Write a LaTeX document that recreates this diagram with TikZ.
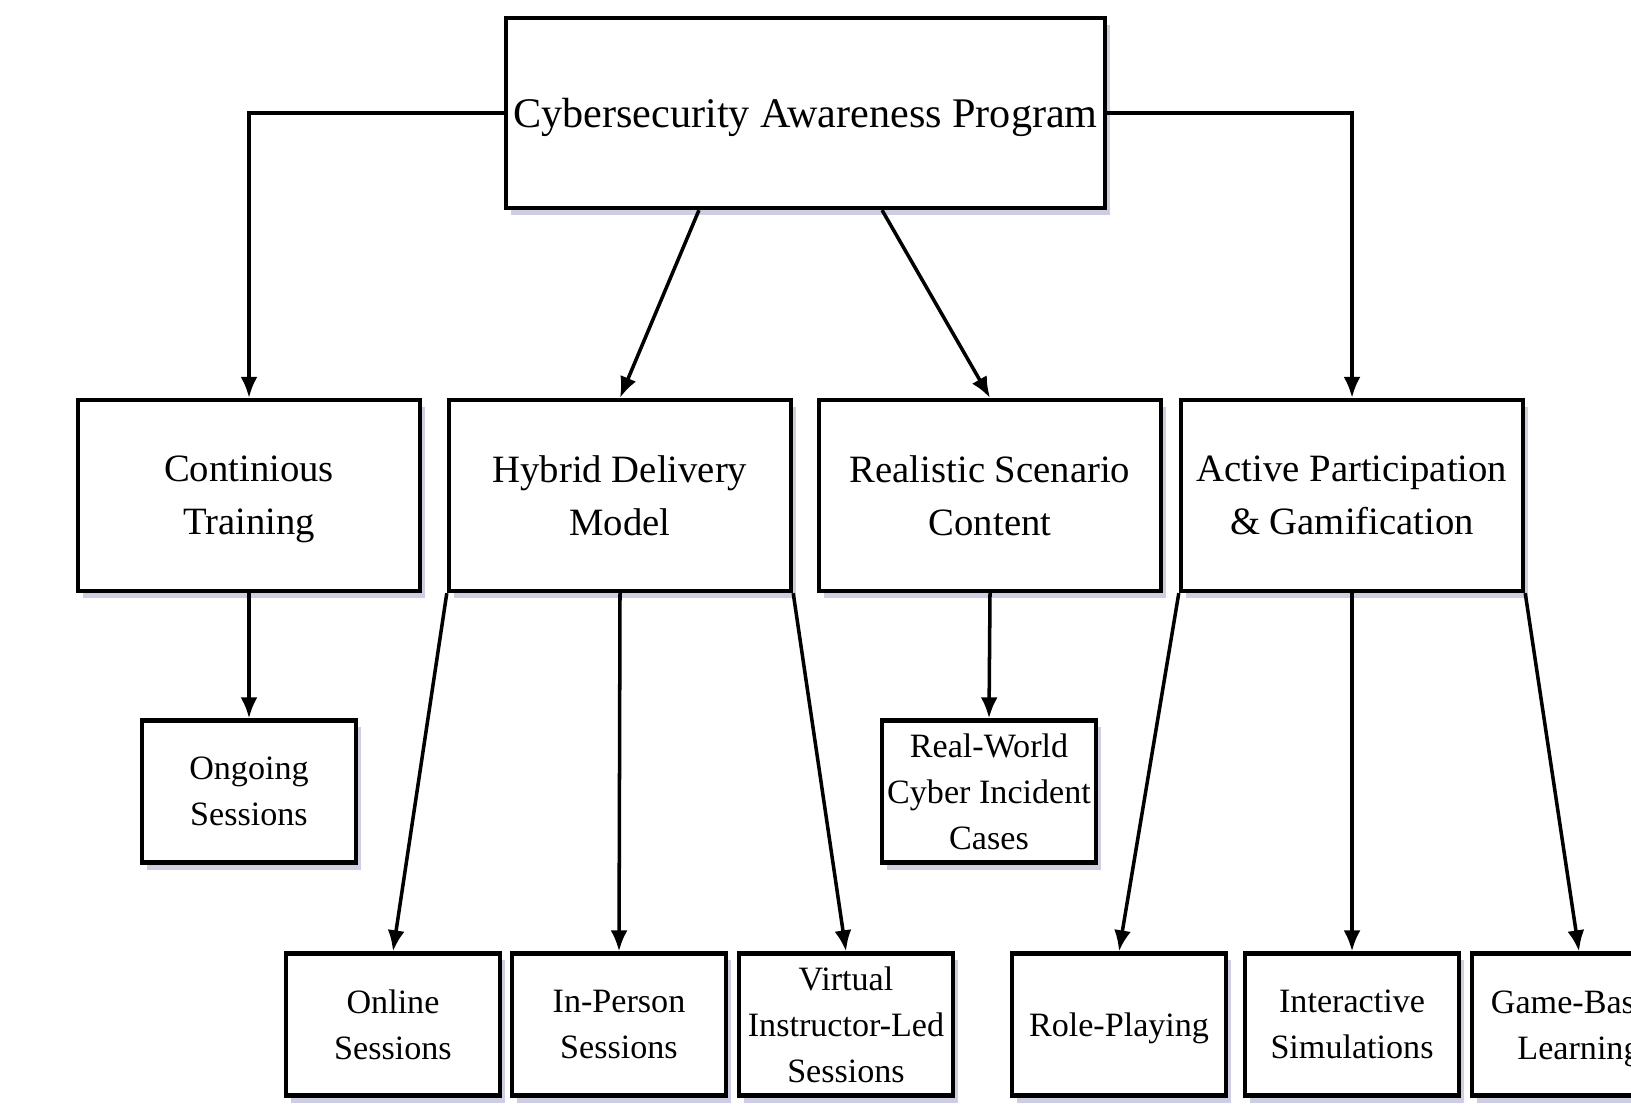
\documentclass[tikz,border=0pt]{standalone}
\usepackage{fontspec}
\setmainfont{Liberation Serif}
\usetikzlibrary{arrows.meta,shadows}

\begin{document}
\begin{tikzpicture}[x=0.01cm,y=-0.01cm]
    % Styles (MODIFIABLES)
    \tikzstyle{fleche}=[-{Latex[length=2.1mm,width=1.7mm]},line width=1pt]
    \tikzstyle{boite}=[draw,line width=1.2pt,fill=white,align=center,inner sep=1pt,text depth=0pt,drop shadow={shadow xshift=1.5pt,shadow yshift=-2pt,opacity=0.3,fill=blue!30!gray}]
    \tikzstyle{racine}=[boite,minimum width=5.99cm,minimum height=1.90cm,font=\fontsize{12}{15}\selectfont]
    \tikzstyle{branche}=[boite,minimum width=3.42cm,minimum height=1.91cm,font=\fontsize{11}{15}\selectfont]
    \tikzstyle{feuille}=[boite,minimum width=2.14cm,minimum height=1.42cm,font=\fontsize{9.7}{13}\selectfont]
    % Cadre
    \useasboundingbox (0,0) rectangle (1631,1107);
    % Niveaux (MODIFIABLES)
    \def\NiveauA{113}
    \def\NiveauB{495.5}
    \def\NiveauC{791.5}
    \def\NiveauD{1024.5}
    % Noeuds
    \node[racine] (prog) at (805.5,\NiveauA) {Cybersecurity Awareness Program};
    \node[branche] (cont) at (249,\NiveauB) {Continious\\Training};
    \node[branche] (hyb) at (620,\NiveauB) {Hybrid Delivery\\Model};
    \node[branche] (real) at (990,\NiveauB) {Realistic Scenario\\Content};
    \node[branche] (actv) at (1352,\NiveauB) {Active Participation\\\& Gamification};
    \node[feuille] (ong) at (249,\NiveauC) {Ongoing\\Sessions};
    \node[feuille] (rw) at (989,\NiveauC) {Real-World\\Cyber Incident\\Cases};
    \node[feuille] (onl) at (393,\NiveauD) {Online\\Sessions};
    \node[feuille] (inp) at (619,\NiveauD) {In-Person\\Sessions};
    \node[feuille] (virt) at (846,\NiveauD) {Virtual\\Instructor-Led\\Sessions};
    \node[feuille] (role) at (1119,\NiveauD) {Role-Playing};
    \node[feuille] (inter) at (1352,\NiveauD) {Interactive\\Simulations};
    \node[feuille] (game) at (1579,\NiveauD) {Game-Based\\Learning};
    % Arcs
    \draw[fleche] (prog.west) -| (cont.north);
    \draw[fleche] (prog.east) -| (actv.north);
    \draw[fleche] ([xshift=-1.065cm]prog.south) -- (hyb.north);
    \draw[fleche] ([xshift=0.765cm]prog.south) -- (real.north);
    \draw[fleche] (cont.south) -- (ong.north);
    \draw[fleche] (real.south) -- (rw.north);
    \draw[fleche] (hyb.south west) -- (onl.north);
    \draw[fleche] (hyb.south) -- (inp.north);
    \draw[fleche] (hyb.south east) -- (virt.north);
    \draw[fleche] (actv.south west) -- (role.north);
    \draw[fleche] (actv.south) -- (inter.north);
    \draw[fleche] (actv.south east) -- (game.north);
\end{tikzpicture}
\end{document}
